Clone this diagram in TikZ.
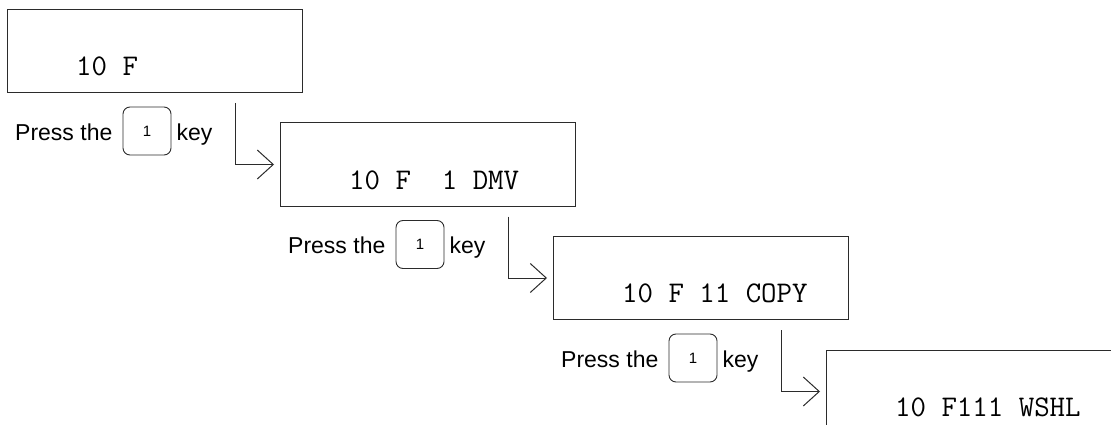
\documentclass[tikz,border=0pt]{standalone}
\usepackage{fontspec}
\setsansfont{Liberation Sans}
\newfontfamily\capfont{Liberation Sans}
\usetikzlibrary{arrows.meta,calc,positioning}
\definecolor{ink}{HTML}{2B2B2B}

\tikzset{
  display/.style={draw=ink,line width=1pt,rectangle,minimum width=295pt,minimum height=83pt,inner sep=0pt,anchor=north west},
  readout/.style={font=\ttfamily\fontsize{30}{34}\selectfont,inner sep=0pt,anchor=west},
  prompt/.style={font=\sffamily\fontsize{23}{27}\selectfont,inner sep=0pt,text height=16.5pt,text depth=0pt},
  keycap/.style={draw=ink,line width=0.9pt,rounded corners=7pt,minimum width=48pt,minimum height=48pt,inner sep=0pt,font=\capfont\fontsize{15}{17}\selectfont},
  flow/.style={draw=ink,line width=1pt,-{Straight Barb[length=16pt,width=29pt]}}
}

\begin{document}
\begin{tikzpicture}[x=1pt,y=-1pt]
\useasboundingbox (0,0) rectangle (1111,425);
\clip (0,0) rectangle (1111,425);
% the four displays, stepping down to the right
\foreach \i/\txt in {1/10~F,2/10~F~~1~DMV,3/10~F~11~COPY,4/10~F111~WSHL} {
  \node[display] (box\i) at ({7+273*(\i-1)},{9+113.5*(\i-1)}) {};
  \node[readout] (val\i) at ($(box\i.north west)+(69,57.5)$) {\txt};
}
% key presses and arrows between displays
\foreach \i in {1,2,3} {
  \pgfmathtruncatemacro{\j}{\i+1}
  \node[prompt,anchor=west] (press\i) at ($(box\i.south west)+(8,39)$) {Press the};
  \node[keycap,right=10pt of press\i,yshift=1pt] (key\i) {1};
  \node[prompt,anchor=west] (word\i) at (key\i.east |- press\i.west) {\hspace{5pt}key};
  \coordinate (drop\i) at ($(box\i.south west)+(228,10)$);
  \draw[flow] (drop\i) |- ([xshift=-6pt]box\j.west);
}
\end{tikzpicture}
\end{document}
